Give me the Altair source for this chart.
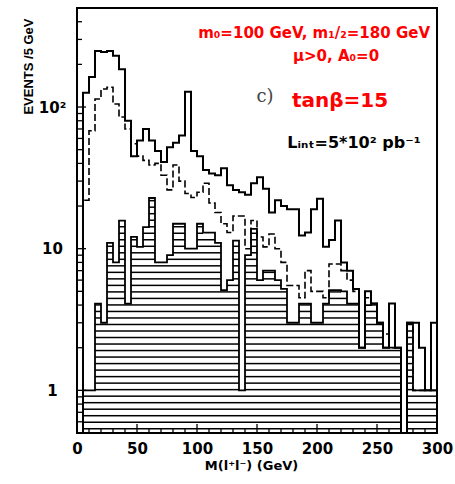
import altair as alt
import numpy as np
import pandas as pd

# ---------------- data ----------------
bin_lo = list(range(0, 300, 5))          # 5 GeV bins, lower edges
BIN_W = 5

solid = [0, 126, 163, 249, 245, 249, 230, 185, 80, 45,
         58, 70, 58, 49, 41, 52, 56, 63, 128, 49,
         45, 36, 34, 33, 37, 28, 26, 25, 24, 29,
         32, 26.5, 18, 22, 20, 19, 19, 12.4, 13, 19,
         22.5, 10.3, 11.5, 15.8, 8, 7, 5.2, 2, 5, 4.1,
         3, 2, 4.1, 2, 0, 3, 3, 2, 1, 3]

dashed = [0, 22, 68, 114, 134, 138, 105, 85, 70, 55,
          45, 42, 39, 40, 33, 26, 39, 30, 24.5, 23,
          25, 29, 21, 18, 15, 13, 17, 17, 10, 15.8,
          12.1, 10.3, 12.7, 10, 8, 5.5, 5.5, 4.5, 7, 5,
          5, 4.5, 7.8, 7.8, 7, 6, 5, 2, 4.5, 4.1,
          3, 2.5, 2, 2, 0, 3, 1, 1, 1, 1]

hatched = [0, 1, 1, 4.1, 3, 11, 8, 15.8, 4.1, 12.1,
           10.3, 14.2, 22.8, 8, 8, 9, 15, 15, 10, 10,
           15, 13, 13, 11, 5.1, 6, 11.4, 1, 9, 13.8,
           6, 7, 7, 6, 5.2, 3, 3, 4.1, 4.1, 3,
           3, 4.1, 5.1, 5.1, 5, 4.1, 4.1, 2, 4, 4.1,
           3, 2, 2, 2, 0, 3, 1, 1, 1, 1]

x_major = [0, 50, 100, 150, 200, 250, 300]
x_minor = [10, 20, 30, 40, 60, 70, 80, 90, 110, 120, 130, 140, 160, 170, 180, 190,
           210, 220, 230, 240, 260, 270, 280, 290]
y_major = [1, 10, 100]
y_minor = [0.5, 0.6, 0.7, 0.8, 0.9, 2, 3, 4, 5, 6, 7, 8, 9,
           20, 30, 40, 50, 60, 70, 80, 90, 200, 300, 400, 500]
y_labels = {1: "1", 10: "10", 100: "10²"}

Y_MIN, Y_MAX = 0.5, 500
X_MIN, X_MAX = 0, 300

W, H = 360, 425
MAJOR_LEN, MINOR_LEN = 9, 5


# ---------------- derived tables ----------------
def outline_df(vals):
    xs_, ys_ = [bin_lo[0]], [Y_MIN]
    for lo, v in zip(bin_lo, vals):
        h = v if v > 0 else Y_MIN
        xs_ += [lo, lo + BIN_W]
        ys_ += [h, h]
    xs_.append(bin_lo[-1] + BIN_W)
    ys_.append(Y_MIN)
    return pd.DataFrame({"x": xs_, "y": ys_, "i": list(range(len(xs_)))})


hatch_levels = 10 ** np.arange(np.log10(Y_MIN) + 0.03, np.log10(Y_MAX), 0.046)
hx, hx2, hy = [], [], []
for lo, v in zip(bin_lo, hatched):
    for lv in hatch_levels:
        if lv < v * 0.985:
            hx.append(lo)
            hx2.append(lo + BIN_W)
            hy.append(float(lv))
hatch_df = pd.DataFrame({"x": hx, "x2": hx2, "y": hy})

# ---------------- scales & axes ----------------
xs = alt.Scale(domain=[X_MIN, X_MAX], nice=False, zero=False)
ys = alt.Scale(type="log", domain=[Y_MIN, Y_MAX], nice=False)

FONT = "DejaVu Sans"

label_expr_y = " : ".join(
    f"datum.value === {k} ? '{v}'" for k, v in y_labels.items()
) + " : ''"

x_axis = alt.Axis(
    values=x_major,
    ticks=False, domain=False, grid=False,
    labelFont=FONT, labelFontWeight="bold", labelFontSize=15, labelColor="black",
    labelPadding=8, labelFlush=False, labelOverlap=False,
    title="M(l⁺l⁻) (GeV)", titleFont=FONT, titleFontWeight="bold", titleFontSize=13,
    titleColor="black", titleX=174, titleY=32, titleAlign="center", titleBaseline="middle",
)

y_axis = alt.Axis(
    values=y_major,
    labelExpr=label_expr_y,
    ticks=False, domain=False, grid=False,
    labelFont=FONT, labelFontWeight="bold", labelFontSize=15, labelColor="black",
    labelPadding=25, labelAlign="center", labelBaseline="middle",
    labelFlush=False, labelOverlap=False,
    title="EVENTS /5 GeV", titleFont="Liberation Sans Narrow, Liberation Sans", titleFontWeight="bold",
    titleFontSize=13, titleColor="black", titleAngle=270,
    titleX=-49, titleY=10, titleAlign="right", titleBaseline="middle",
)

# ---------------- layers ----------------
hatch = alt.Chart(hatch_df).mark_rule(color="black", strokeWidth=1.5).encode(
    x=alt.X("x:Q", scale=xs, axis=x_axis),
    x2="x2:Q",
    y=alt.Y("y:Q", scale=ys, axis=y_axis),
)


def step_line(vals, **kw):
    return alt.Chart(outline_df(vals)).mark_line(
        color="black", clip=True, strokeJoin="miter", **kw
    ).encode(
        x=alt.X("x:Q", scale=xs, axis=x_axis),
        y=alt.Y("y:Q", scale=ys, axis=y_axis),
        order="i:Q",
    )


hatch_outline = step_line(hatched, strokeWidth=1.8)
dashed_line = step_line(dashed, strokeWidth=1.6, strokeDash=[7, 3])
solid_line = step_line(solid, strokeWidth=2)


# inward-pointing axis ticks
def x_ticks_layer(vals, length):
    return alt.Chart(pd.DataFrame({"v": vals})).mark_rule(color="black", strokeWidth=1.3).encode(
        x=alt.X("v:Q", scale=xs, axis=x_axis),
        y=alt.value(H), y2=alt.value(H - length),
    )


def y_ticks_layer(vals, length):
    return alt.Chart(pd.DataFrame({"v": vals})).mark_rule(color="black", strokeWidth=1.3).encode(
        y=alt.Y("v:Q", scale=ys, axis=y_axis),
        x=alt.value(0), x2=alt.value(length),
    )


ticks = [
    x_ticks_layer(x_major, MAJOR_LEN), x_ticks_layer(x_minor, MINOR_LEN),
    y_ticks_layer(y_major, MAJOR_LEN), y_ticks_layer(y_minor, MINOR_LEN),
]


def label(text, x, y, **kw):
    return alt.Chart(pd.DataFrame({"t": [text]})).mark_text(**kw).encode(
        x=alt.value(x), y=alt.value(y), text="t:N"
    )


texts = [
    label("m₀=100 GeV, m₁/₂=180 GeV", 353, 25, align="right", baseline="middle",
          font=FONT, fontWeight="bold", fontSize=15, color="#ff0000"),
    label("μ>0, A₀=0", 259, 48, align="center", baseline="middle",
          font=FONT, fontWeight="bold", fontSize=15, color="#ff0000"),
    label("c)", 188, 89, align="center", baseline="middle",
          font="DejaVu Serif", fontSize=18, color="#444444"),
    label("tanβ=15", 263, 93, align="center", baseline="middle",
          font=FONT, fontWeight="bold", fontSize=20, color="#ff0000"),
    label("Lᵢₙₜ=5*10² pb⁻¹", 277, 135, align="center", baseline="middle",
          font=FONT, fontWeight="bold", fontSize=16, color="black"),
]

chart = alt.layer(hatch, hatch_outline, dashed_line, solid_line, *ticks, *texts).properties(
    width=W,
    height=H,
    autosize=alt.AutoSizeParams(type="none"),
    padding={"left": 77, "top": 8, "right": 18, "bottom": 51},
    background="white",
).configure_view(stroke="black", strokeWidth=2)

chart.save("out.html", embed_options={"renderer": "svg", "actions": False})
